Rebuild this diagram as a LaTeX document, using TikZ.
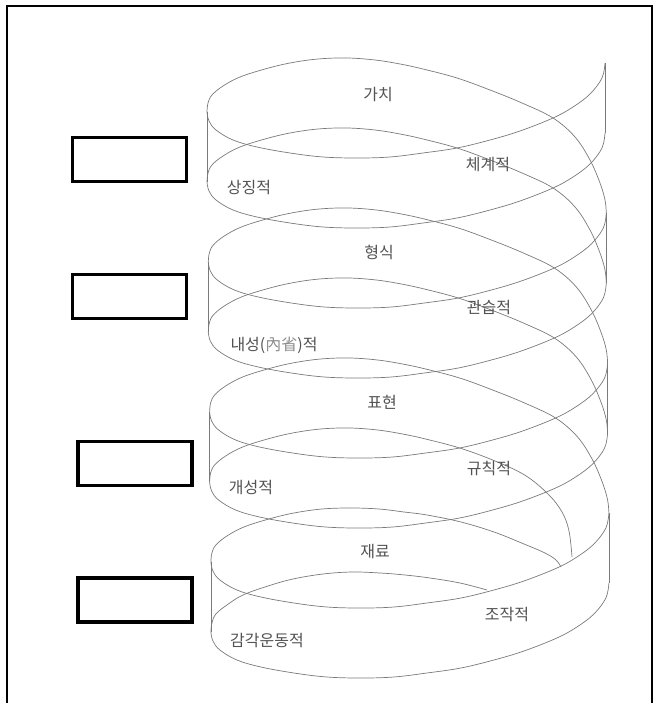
\documentclass[tikz,border=0pt]{standalone}
\usepackage{fontspec}
\newfontfamily\kr{Noto Sans CJK KR}
\begin{document}
\begin{tikzpicture}[x=1pt,y=-1pt]
\useasboundingbox (0,0) rectangle (654,703);
\tikzset{
  hx/.style={draw=black!52, line width=0.7pt},
  lbl/.style={font=\kr\fontsize{16}{16}\selectfont, text=black!68, inner sep=0pt},
  blank/.style={draw=black, line width=3.3pt, minimum width=114pt, minimum height=44pt, inner sep=0pt}
}
\def\Tfront{(605,63) (602,78) (590,94) (573,107) (553,118) (520,131) (490,140) (457,148) (423,153) (390,157) (357,158) (323,157) (290,153) (257,147) (233,140) (216,130) (209,121) (207,112)}
\def\Tback{(207,112) (208,103) (212,95) (223,86) (240,77) (265,69) (290,63) (318,59) (347,58) (375,60) (400,64) (423,69) (457,78) (490,90) (522,103) (553,118) (575,137) (590,160) (600,183) (605,200) (606.3,213)}
% frame
\draw[line width=1.4pt] (7,720) -- (7,6) -- (652,6) -- (652,720);
% front arcs (top and bottom edges), silhouettes
\foreach \k in {0,1,2,3}{
  \foreach \e in {0,70}{
    \begin{scope}[shift={({1.3*\k},{150*\k+\e})}]
      \edef\tmp{\noexpand\draw[hx] plot[smooth,tension=0.6] coordinates {\Tfront};}\tmp
    \end{scope}
  }
  \begin{scope}[shift={({1.3*\k},{150*\k})}]
    \draw[hx] (605,63) -- (605,133);
    \draw[hx] (207,112) -- (207,182);
  \end{scope}
}
% full back arcs
\foreach \k/\e in {0/0,1/0,2/0,0/70,1/70}{
  \begin{scope}[shift={({1.3*\k},{150*\k+\e})}]
    \edef\tmp{\noexpand\draw[hx] plot[smooth,tension=0.6] coordinates {\Tback};}\tmp
  \end{scope}
}
% back arcs ending at the front of the last band
\draw[hx] plot[smooth,tension=0.6] coordinates {(209.6,482) (210.6,473) (214.6,465) (225.6,456) (242.6,447) (267.6,439) (292.6,433) (320.6,429) (349.6,428) (377.6,430) (402.6,434) (425.6,439) (459.6,448) (492.6,460) (524.6,475) (548,494) (562,512) (569,531) (572,557)};
\draw[hx] plot[smooth,tension=0.6] coordinates {(210.9,562) (211.9,553) (215.9,545) (226.9,536) (243.9,527) (268.9,519) (293.9,513) (321.9,509) (350.9,508) (378.9,509) (404,512) (427,515) (461,522) (494,532) (524,544) (545,553) (556,560) (561,567)};
\draw[hx] plot[smooth,tension=0.6] coordinates {(210.9,632) (211.9,623) (215.9,614) (226.9,605) (243,595) (268,586) (293,579) (323,574) (352,572) (380,573) (405,575) (430,578) (460,583) (487,590)};
% labels
\node[lbl] (v1) at (378,95) {가치};
\node[lbl] (v2) at (488,165) {체계적};
\node[lbl] (v3) at (249,188) {상징적};
\node[lbl] (f1) at (379,252) {형식};
\node[lbl] (f2) at (489,308) {관습적};
\node[lbl] (f3) at (274,345) {내성(\textcolor{black!45}{內省})적};
\node[lbl] (e1) at (382,402) {표현};
\node[lbl] (e2) at (489,468) {규칙적};
\node[lbl] (e3) at (251,488) {개성적};
\node[lbl] (m1) at (375,552) {재료};
\node[lbl] (m2) at (507,615) {조작적};
\node[lbl] (m3) at (267,641) {감각운동적};
% empty boxes
\node[blank] (b1) at (129.3,159.5) {};
\node[blank] (b2) at (129.3,296.5) {};
\node[blank] (b3) at (135,463.5) {};
\node[blank] (b4) at (135,600) {};
\end{tikzpicture}
\end{document}
